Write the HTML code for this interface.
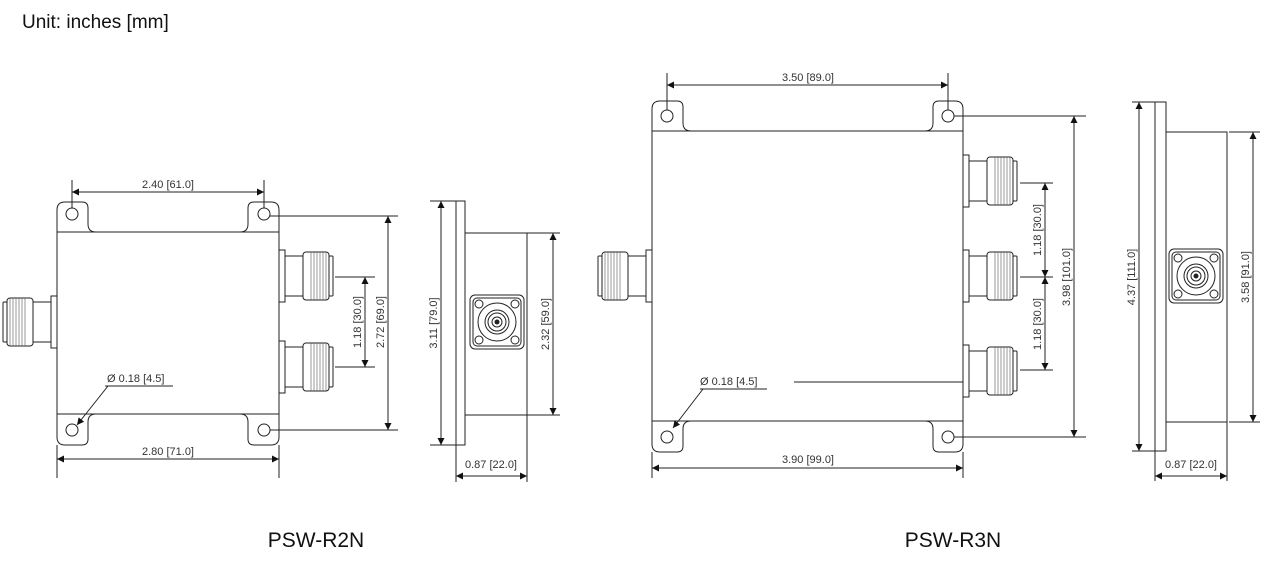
<!DOCTYPE html>
<html><head><meta charset="utf-8"><style>
html,body{margin:0;padding:0;background:#fff;width:1280px;height:565px;overflow:hidden}
svg{display:block}
.l{stroke:#222;stroke-width:1;fill:none}
.t{font-family:"Liberation Sans",sans-serif;font-size:11px;fill:#333}
</style></head><body>
<svg width="1280" height="565" viewBox="0 0 1280 565" xmlns="http://www.w3.org/2000/svg">
<defs>
<marker id="a" viewBox="0 0 10 10" refX="10" refY="5" markerWidth="9" markerHeight="7" orient="auto-start-reverse" markerUnits="userSpaceOnUse"><path d="M0,0 L10,5 L0,10 z" fill="#111"/></marker>
<g id="con">
<rect x="0" y="-26" width="6" height="52" fill="#fff" stroke="#222"/>
<rect x="6" y="-20" width="18" height="40" fill="#fff" stroke="#222"/>
<rect x="24" y="-24" width="26" height="48" rx="3" fill="#fff" stroke="#222"/>
<path d="M32,-24V24M35,-24V24M38,-24V24M41,-24V24M44,-24V24M47,-24V24" stroke="#555" stroke-width="0.6" fill="none"/>
<rect x="50" y="-20" width="4" height="40" rx="1" fill="#fff" stroke="#222"/>
</g>
<g id="sq">
<rect x="-27" y="-27" width="54" height="54" rx="5" fill="#fff" stroke="#222"/>
<rect x="-24" y="-24" width="48" height="48" rx="4" fill="none" stroke="#222"/>
<circle cx="-18" cy="-18" r="4" fill="none" stroke="#222"/><circle cx="18" cy="-18" r="4" fill="none" stroke="#222"/>
<circle cx="-18" cy="18" r="4" fill="none" stroke="#222"/><circle cx="18" cy="18" r="4" fill="none" stroke="#222"/>
<circle r="19" fill="none" stroke="#222"/><circle r="12" fill="none" stroke="#222"/><circle r="9" fill="none" stroke="#222"/>
<circle r="5" fill="none" stroke="#222"/><circle r="2.5" fill="#222"/>
</g>
</defs>

<text x="22" y="28" font-family="Liberation Sans,sans-serif" font-size="19" fill="#111">Unit: inches [mm]</text>
<text x="316" y="547" text-anchor="middle" font-family="Liberation Sans,sans-serif" font-size="21" fill="#111">PSW-R2N</text>
<text x="953" y="547" text-anchor="middle" font-family="Liberation Sans,sans-serif" font-size="21" fill="#111">PSW-R3N</text>

<g class="l">
<path d="M57,232 V210 Q57,202 65,202 H82 Q88,202 88,208 V224 Q88,232 96,232 M240,232 Q248,232 248,224 V208 Q248,202 254,202 H271 Q279,202 279,210 V232"/>
<path d="M57,414 V437 Q57,445 65,445 H82 Q88,445 88,439 V422 Q88,414 96,414 M240,414 Q248,414 248,422 V439 Q248,445 254,445 H271 Q279,445 279,437 V414"/>
<rect x="57" y="232" width="222" height="182"/>
<circle cx="72" cy="214" r="6"/><circle cx="264" cy="214" r="6"/><circle cx="72" cy="430" r="6"/><circle cx="264" cy="430" r="6"/>
</g>
<use href="#con" transform="translate(279,276)"/>
<use href="#con" transform="translate(279,367)"/>
<use href="#con" transform="translate(57,322) scale(-1,1)"/>
<g class="l">
<path d="M72,180V208 M264,180V208"/>
<path d="M72,192H264" marker-start="url(#a)" marker-end="url(#a)"/>
<path d="M57,445V478 M279,445V478"/>
<path d="M57,459H279" marker-start="url(#a)" marker-end="url(#a)"/>
<path d="M335,277H375 M335,367H375"/>
<path d="M365,277V367" marker-start="url(#a)" marker-end="url(#a)"/>
<path d="M270,216H398 M270,430H398"/>
<path d="M388,216V430" marker-start="url(#a)" marker-end="url(#a)"/>
<path d="M105,386H173"/>
<path d="M108,386L77,425" marker-end="url(#a)"/>
</g>
<text class="t" x="168" y="188" text-anchor="middle">2.40 [61.0]</text>
<text class="t" x="168" y="455" text-anchor="middle">2.80 [71.0]</text>
<text class="t" x="107" y="382">Ø 0.18 [4.5]</text>
<text class="t" transform="translate(361,322) rotate(-90)" text-anchor="middle">1.18 [30.0]</text>
<text class="t" transform="translate(384,322) rotate(-90)" text-anchor="middle">2.72 [69.0]</text>

<g class="l">
<rect x="456" y="201" width="9" height="244"/>
<rect x="465" y="233" width="62" height="182"/>
<path d="M430,201H456 M430,445H456"/>
<path d="M441,201V445" marker-start="url(#a)" marker-end="url(#a)"/>
<path d="M527,233H560 M527,415H560"/>
<path d="M553,233V415" marker-start="url(#a)" marker-end="url(#a)"/>
<path d="M456,445V482 M527,415V482"/>
<path d="M456,476H527" marker-start="url(#a)" marker-end="url(#a)"/>
</g>
<use href="#sq" transform="translate(497,322)"/>
<text class="t" transform="translate(437,323) rotate(-90)" text-anchor="middle">3.11 [79.0]</text>
<text class="t" transform="translate(549,324) rotate(-90)" text-anchor="middle">2.32 [59.0]</text>
<text class="t" x="491" y="468" text-anchor="middle">0.87 [22.0]</text>

<g class="l">
<path d="M652,131 V109 Q652,101 660,101 H677 Q683,101 683,107 V123 Q683,131 691,131 M925,131 Q933,131 933,123 V107 Q933,101 939,101 H955 Q963,101 963,109 V131"/>
<path d="M652,421 V444 Q652,452 660,452 H677 Q683,452 683,446 V429 Q683,421 691,421 M925,421 Q933,421 933,429 V446 Q933,452 939,452 H955 Q963,452 963,444 V421"/>
<rect x="652" y="131" width="311" height="290"/>
<circle cx="667" cy="116" r="6"/><circle cx="948" cy="116" r="6"/><circle cx="667" cy="437" r="6"/><circle cx="948" cy="437" r="6"/>
</g>
<use href="#con" transform="translate(963,181)"/>
<use href="#con" transform="translate(963,276)"/>
<use href="#con" transform="translate(963,371)"/>
<use href="#con" transform="translate(652,276) scale(-1,1)"/>
<g class="l">
<path d="M667,73V110 M948,73V110"/>
<path d="M667,85H948" marker-start="url(#a)" marker-end="url(#a)"/>
<path d="M652,452V478 M963,452V478"/>
<path d="M652,468H963" marker-start="url(#a)" marker-end="url(#a)"/>
<path d="M794,382H963"/>
<path d="M700,389H767"/>
<path d="M703,389L673,428" marker-end="url(#a)"/>
<path d="M1020,183H1053 M1020,277H1053 M1020,370H1053"/>
<path d="M1045,183V277" marker-start="url(#a)" marker-end="url(#a)"/>
<path d="M1045,277V370" marker-start="url(#a)" marker-end="url(#a)"/>
<path d="M954,116H1086 M954,437H1086"/>
<path d="M1074,116V437" marker-start="url(#a)" marker-end="url(#a)"/>
</g>
<text class="t" x="808" y="81" text-anchor="middle">3.50 [89.0]</text>
<text class="t" x="808" y="463" text-anchor="middle">3.90 [99.0]</text>
<text class="t" x="700" y="385">Ø 0.18 [4.5]</text>
<text class="t" transform="translate(1041,230) rotate(-90)" text-anchor="middle">1.18 [30.0]</text>
<text class="t" transform="translate(1041,324) rotate(-90)" text-anchor="middle">1.18 [30.0]</text>
<text class="t" transform="translate(1070,277) rotate(-90)" text-anchor="middle">3.98 [101.0]</text>

<g class="l">
<rect x="1155" y="102" width="11" height="349"/>
<rect x="1166" y="132" width="61" height="290"/>
<path d="M1132,102H1155 M1132,451H1155"/>
<path d="M1139,102V451" marker-start="url(#a)" marker-end="url(#a)"/>
<path d="M1229,132H1260 M1229,422H1260"/>
<path d="M1253,132V422" marker-start="url(#a)" marker-end="url(#a)"/>
<path d="M1155,451V481 M1227,422V481"/>
<path d="M1155,476H1227" marker-start="url(#a)" marker-end="url(#a)"/>
</g>
<use href="#sq" transform="translate(1196,276)"/>
<text class="t" transform="translate(1135,277) rotate(-90)" text-anchor="middle">4.37 [111.0]</text>
<text class="t" transform="translate(1249,277) rotate(-90)" text-anchor="middle">3.58 [91.0]</text>
<text class="t" x="1191" y="468" text-anchor="middle">0.87 [22.0]</text>
</svg>
</body></html>
